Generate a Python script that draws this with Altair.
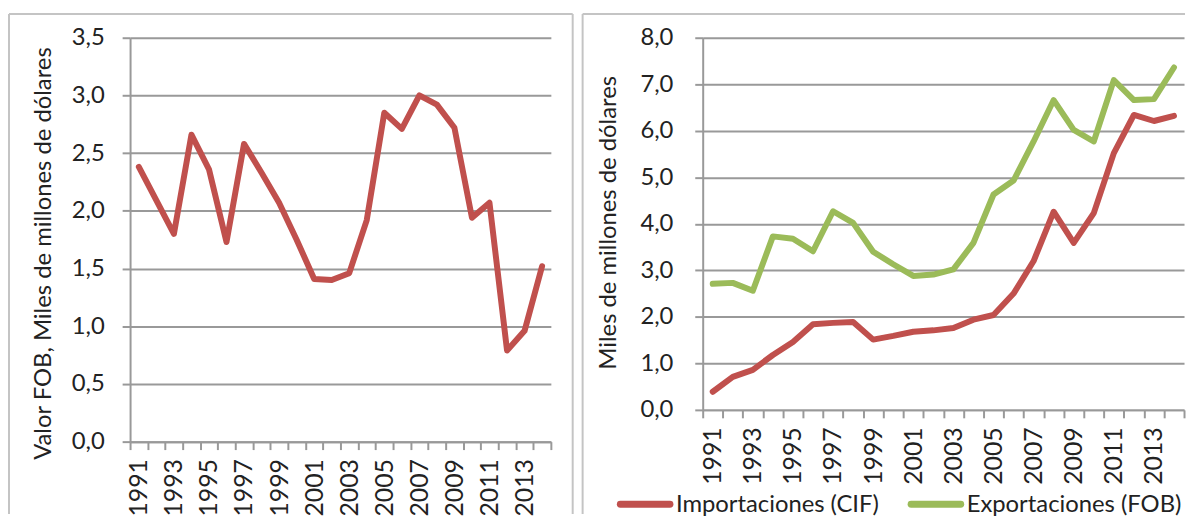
import altair as alt
import pandas as pd

years = list(range(1991, 2015))
valor_fob = [2.38, 2.09, 1.80, 2.66, 2.36, 1.73, 2.58, 2.33, 2.07, 1.75, 1.41, 1.40,
             1.46, 1.92, 2.85, 2.71, 3.00, 2.92, 2.72, 1.94, 2.07, 0.79, 0.96, 1.52]
importaciones = [0.39, 0.71, 0.86, 1.18, 1.46, 1.84, 1.87, 1.89, 1.51, 1.59, 1.68, 1.71,
                 1.76, 1.94, 2.04, 2.50, 3.20, 4.26, 3.59, 4.23, 5.52, 6.34, 6.21, 6.32]
exportaciones = [2.71, 2.73, 2.56, 3.73, 3.68, 3.41, 4.27, 4.02, 3.40, 3.13, 2.88, 2.91,
                 3.02, 3.59, 4.63, 4.93, 5.77, 6.66, 6.02, 5.77, 7.09, 6.66, 6.68, 7.36]
series_names = ["Importaciones (CIF)", "Exportaciones (FOB)"]
left_ticks = [0, 0.5, 1.0, 1.5, 2.0, 2.5, 3.0, 3.5]
right_ticks = [0, 1, 2, 3, 4, 5, 6, 7, 8]
left_title = "Valor FOB, Miles de millones de dólares"
right_title = "Miles de millones de dólares"

RED = "#C0504D"
GREEN = "#9BBB59"
GRID = "#999999"
FRAME = "#c4c4c4"
TXT = "#222222"
FONT = "Lato"
FS = 24

df_left = pd.DataFrame({"year": years, "v": valor_fob})
df_right = pd.DataFrame({
    "year": years * 2,
    "v": importaciones + exportaciones,
    "serie": [series_names[0]] * len(years) + [series_names[1]] * len(years),
})
df_legend = pd.DataFrame({"serie": series_names})

num_expr = "replace(format(datum.value, '.1f'), '.', ',')"
color_scale = alt.Scale(domain=series_names, range=[RED, GREEN])


def x_enc():
    return alt.X(
        "year:O",
        bandPosition=0.5,
        scale=alt.Scale(type="band", paddingInner=0, paddingOuter=0),
        axis=alt.Axis(
            title=None, labelAngle=270, labelExpr="datum.value % 2 == 1 ? datum.label : ''",
            tickBand="extent", tickSize=8, tickColor=GRID, tickWidth=2,
            domainColor=GRID, domainWidth=2, labelPadding=9,
            labelFont=FONT, labelFontSize=25, labelColor=TXT, labelOverlap=False,
        ),
    )


def y_enc(domain, ticks, title, tx, ty, lpad):
    return alt.Y(
        "v:Q",
        scale=alt.Scale(domain=domain, nice=False, zero=True),
        axis=alt.Axis(
            values=ticks, labelExpr=num_expr, title=title,
            titleX=tx, titleY=ty, titleAngle=270, titleAlign="center", titleBaseline="middle",
            titleFont=FONT, titleFontSize=FS, titleFontWeight="normal", titleColor=TXT,
            grid=True, gridColor=GRID, gridWidth=2,
            tickSize=8, tickColor=GRID, tickWidth=2, domainColor=GRID, domainWidth=2,
            labelPadding=lpad, labelFont=FONT, labelFontSize=FS, labelColor=TXT,
        ),
    )


def rule(x=None, x2=None, y=None, y2=None):
    enc = {}
    if x is not None:
        enc["x"] = alt.value(x)
    if x2 is not None:
        enc["x2"] = alt.value(x2)
    if y is not None:
        enc["y"] = alt.value(y)
    if y2 is not None:
        enc["y2"] = alt.value(y2)
    return alt.Chart(pd.DataFrame({"a": [0]})).mark_rule(color=FRAME, strokeWidth=2).encode(**enc)


LW, LH = 424, 407
RW, RH = 485, 375

left_line = alt.Chart(df_left).mark_line(
    color=RED, strokeWidth=6, strokeJoin="round", strokeCap="round"
).encode(
    x=x_enc(),
    y=y_enc([0, 3.5], left_ticks, left_title, -87, 217, 18),
)

left = alt.layer(
    left_line,
    rule(x=-122, y=-24, y2=480),
    rule(x=446, y=-24, y2=480),
    rule(x=-122, x2=446, y=-24),
).properties(width=LW, height=LH)

right_line = alt.Chart(df_right).mark_line(
    strokeWidth=6, strokeJoin="round", strokeCap="round"
).encode(
    x=x_enc(),
    y=y_enc([0, 8], right_ticks, right_title, -95, 186, 22),
    color=alt.Color("serie:N", scale=color_scale, legend=None),
)

# legend (symbol line + label) built from the series names
leg_x = [-86, 207]
leg_y = 470
legend_layers = []
for i, name in enumerate(series_names):
    base = alt.Chart(df_legend).transform_filter(alt.datum.serie == name)
    legend_layers.append(
        base.mark_rule(strokeWidth=7, strokeCap="round").encode(
            x=alt.value(leg_x[i] + 3), x2=alt.value(leg_x[i] + 53), y=alt.value(leg_y),
            color=alt.Color("serie:N", scale=color_scale, legend=None),
        )
    )
    legend_layers.append(
        base.mark_text(align="left", baseline="middle", font=FONT, fontSize=FS, color=TXT).encode(
            x=alt.value(leg_x[i] + 59), y=alt.value(leg_y + 1), text="serie:N",
        )
    )

right = alt.layer(
    right_line,
    *legend_layers,
    rule(x=-121, y=-24, y2=480),
    rule(x=-121, x2=486, y=-24),
).properties(width=RW, height=RH)

chart = alt.hconcat(left, right, spacing=153, bounds="flush").properties(
    padding={"left": 0, "top": 3, "right": 0, "bottom": 0},
    background="white",
).configure_view(stroke=None)

chart.save("out.html", embed_options={"renderer": "svg", "actions": False})
